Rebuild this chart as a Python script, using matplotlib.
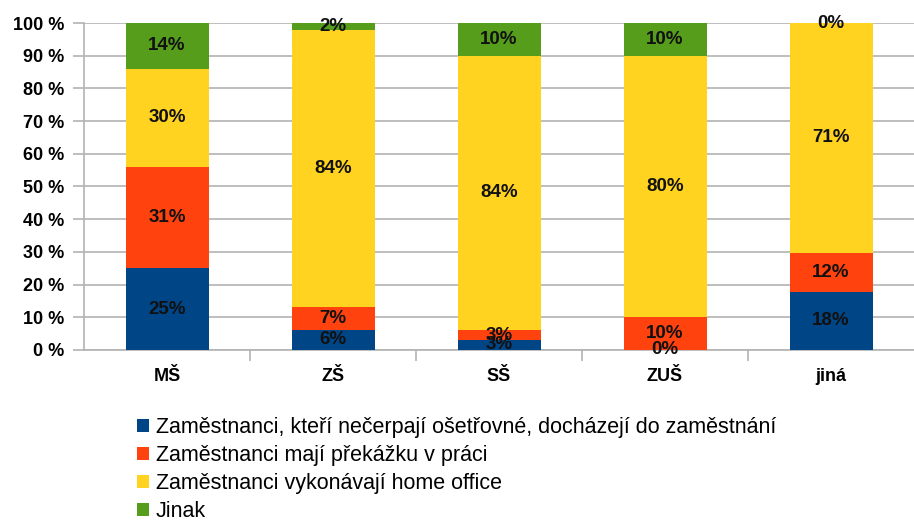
import numpy as np
import matplotlib.pyplot as plt
from matplotlib.patches import Patch

# categories and shares (percent as labelled in the chart)
categories = ["MŠ", "ZŠ", "SŠ", "ZUŠ", "jiná"]
series_names = ["Zaměstnanci, kteří nečerpají ošetřovné, docházejí do zaměstnání",
                "Zaměstnanci mají překážku v práci",
                "Zaměstnanci vykonávají home office",
                "Jinak"]
dochazeji = [25, 6, 3, 0, 18]
prekazka = [31, 7, 3, 10, 12]
home_office = [30, 84, 84, 80, 71]
jinak = [14, 2, 10, 10, 0]

colors = ["#004586", "#ff420e", "#ffd320", "#579d1c"]

plt.rcParams['font.family'] = ['Liberation Sans', 'DejaVu Sans']

data = np.array([dochazeji, prekazka, home_office, jinak], dtype=float)
totals = data.sum(axis=0)
shares = data / totals * 100    # 100 % stacked

x = np.arange(len(categories))

fig = plt.figure(figsize=(9.14, 5.23), dpi=100)
ax = fig.add_axes([0.092, 0.331, 0.908, 0.625])

bottom = np.zeros(len(categories))
for i in range(len(series_names)):
    ax.bar(x, shares[i], bottom=bottom, width=0.5, color=colors[i], zorder=3)
    for j in range(len(categories)):
        ax.text(x[j], bottom[j] + shares[i][j] / 2, "%d%%" % data[i][j],
                ha="center", va="center", fontsize=13.5, fontweight="bold",
                color="#111111", zorder=4)
    bottom += shares[i]

ax.set_xlim(-0.5, len(categories) - 0.5)
ax.set_ylim(0, 100)
ax.set_yticks(np.arange(0, 101, 10))
ax.set_yticklabels(["%d %%" % v for v in range(0, 101, 10)], fontsize=13, fontweight="bold")
ax.yaxis.grid(True, color="#b3b3b3", linewidth=1.2, zorder=0)
ax.tick_params(axis="y", length=8, color="#b3b3b3", width=1.2, pad=6.5)

# category boundary ticks on the x axis
ax.set_xticks(np.arange(0.5, len(categories) - 1, 1.0))
ax.set_xticklabels([])
ax.set_xticks(x, minor=True)
ax.set_xticklabels(categories, minor=True, fontsize=13, fontweight="bold")
ax.tick_params(axis="x", which="major", length=8, color="#b3b3b3", width=1.2)
ax.tick_params(axis="x", which="minor", length=0, pad=13)

for s in ["top", "right"]:
    ax.spines[s].set_visible(False)
ax.spines["left"].set_color("#b3b3b3")
ax.spines["bottom"].set_color("#b3b3b3")
ax.spines["left"].set_linewidth(1.2)
ax.spines["bottom"].set_linewidth(1.2)

handles = [Patch(facecolor=c) for c in colors]
fig.legend(handles, series_names, loc="upper left", bbox_to_anchor=(0.141, 0.219),
           frameon=False, fontsize=15.5, handlelength=0.55, handleheight=0.55,
           handletextpad=0.3, labelspacing=0.33, borderaxespad=0)

fig.savefig("out.png", dpi=100)
